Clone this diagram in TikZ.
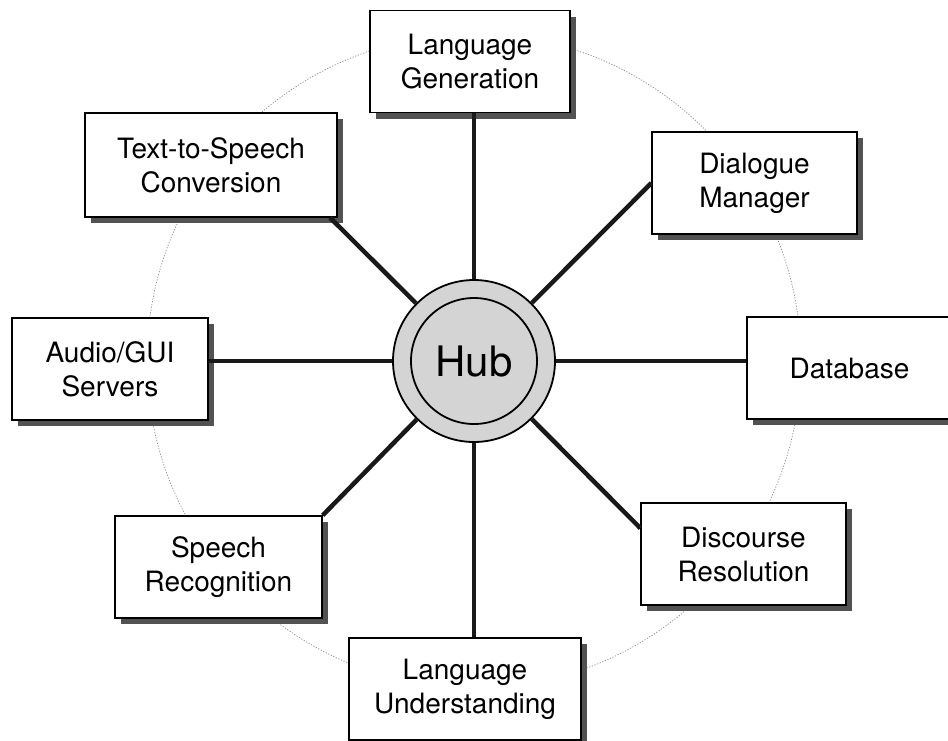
\documentclass[tikz,border=0pt]{standalone}
\usepackage{fontspec}
\setmainfont{TeX Gyre Heros}
\usetikzlibrary{shadows,calc}
\begin{document}
\begin{tikzpicture}[x=1pt,y=-1pt,
  modbox/.style={draw=black, line width=1.3pt, fill=white, minimum width=#1,
    minimum height=102pt, inner sep=0pt, align=center,
    font=\fontsize{28}{34}\selectfont,
    general shadow={fill=black!68, shadow xshift=6pt, shadow yshift=-6pt}},
  conn/.style={line width=4.5pt, draw=black!90},
  ring/.style={draw=black!45, line width=0.7pt, dash pattern=on 1.2pt off 1.6pt},
  hubnode/.style={circle, draw=black, line width=1.8pt, fill=black!17,
    minimum size=162pt, inner sep=0pt, font=\fontsize{42}{48}\selectfont}]
\useasboundingbox (0,0) rectangle (948,740);
\fill[white] (0,0) rectangle (948,740);
\coordinate (c) at (474,361);
\draw[ring] (c) circle (327);

\node[modbox=200pt] (lg) at (470,61.5) {Language\\Generation};
\node[modbox=252pt, minimum height=104pt] (tts) at (211,165) {Text-to-Speech\\Conversion};
\node[modbox=205pt] (dm) at (754.5,183) {Dialogue\\Manager};
\node[modbox=196pt] (ag) at (110,369) {Audio/GUI\\Servers};
\node[modbox=205pt] (db) at (849.5,368) {Database};
\node[modbox=207pt] (sr) at (218.5,567) {Speech\\Recognition};
\node[modbox=205pt] (dr) at (743.5,554) {Discourse\\Resolution};
\node[modbox=232pt] (lu) at (465,689) {Language\\Understanding};

\node[hubnode] (hub) at (c) {Hub};
\draw[line width=1.8pt] (hub.center) circle (63);

\draw[conn] (hub) -- (lg.south -| hub);
\draw[conn] (hub) -- (lu.north -| hub);
\draw[conn] (hub) -- (ag.east |- hub);
\draw[conn] (hub) -- (db.west |- hub);
\draw[conn] (hub) -- (dm.west);
\draw[conn] (hub) -- ($(dr.north west)!0.25!(dr.south west)$);
\draw[conn] (hub) -- (sr.north east);
\draw[conn] (hub) -- ($(tts.south east)!0.03!(tts.south west)$);
\end{tikzpicture}
\end{document}
